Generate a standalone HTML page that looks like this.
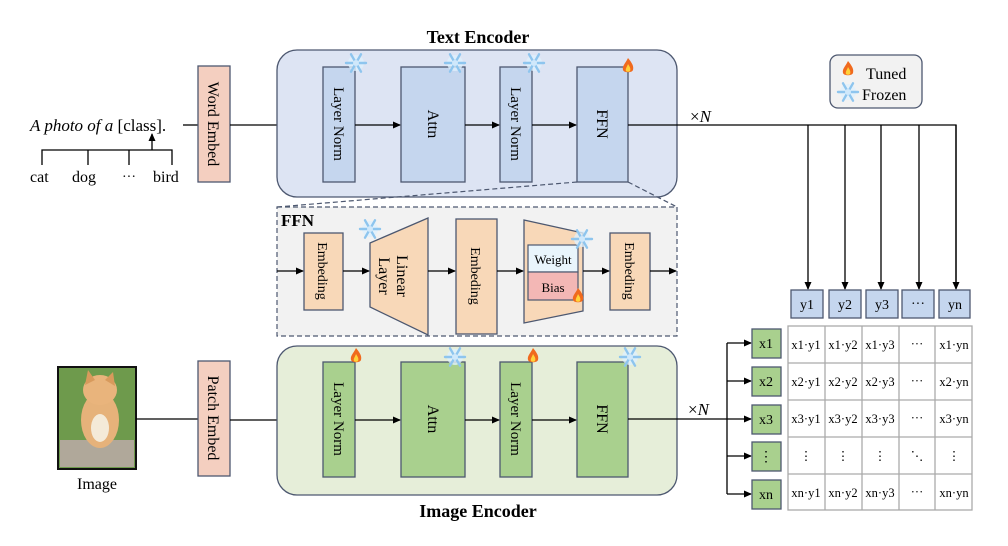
<!DOCTYPE html>
<html><head><meta charset="utf-8"><style>
html,body{margin:0;padding:0;background:#fff}
svg{display:block;font-family:"Liberation Serif",serif}
</style></head><body>
<svg width="1008" height="546" viewBox="0 0 1008 546" xmlns="http://www.w3.org/2000/svg">
<defs>
<marker id="a" markerWidth="8" markerHeight="8" refX="7" refY="4" orient="auto" markerUnits="userSpaceOnUse"><path d="M0,0.5 L8,4 L0,7.5 Z" fill="#000"/></marker>
<g id="sf"><circle r="8" fill="#dff0fc" opacity="0.8"/><g stroke="#8ec5ee" stroke-width="2.4" stroke-linecap="round"><line x1="-10" y1="0" x2="10" y2="0"/><line x1="-5" y1="-8.7" x2="5" y2="8.7"/><line x1="5" y1="-8.7" x2="-5" y2="8.7"/></g><circle r="3" fill="#cfe8fb"/></g>
<g id="fl"><path d="M0,-8 C4,-3 6,0 5,4 C4,7 -4,7 -5,4 C-6,0 -3,-2 0,-8 Z" fill="#f06a1e"/><path d="M0,-2 C2,1 3,3 2,5 C1,6 -1,6 -2,5 C-3,3 -1,1 0,-2 Z" fill="#ffd23a"/></g>
</defs>

<!-- left text -->
<text x="30" y="131" font-size="17"><tspan font-style="italic">A photo of a</tspan> [class].</text>
<line x1="183" y1="125" x2="198" y2="125" stroke="#000" stroke-width="1.3"/>
<path d="M42,165 V150 H172 V165 M88,150 V165 M129,150 V165" fill="none" stroke="#000" stroke-width="1.3"/>
<line x1="152" y1="150" x2="152" y2="134" stroke="#000" stroke-width="1.3" marker-end="url(#a)"/>
<text x="30" y="182" font-size="16">cat</text>
<text x="72" y="182" font-size="16">dog</text>
<text x="122" y="181" font-size="14">···</text>
<text x="153" y="182" font-size="16">bird</text>

<!-- Word embed -->
<rect x="198" y="66" width="32" height="116" fill="#f4cfc0" stroke="#4d5870" stroke-width="1.3"/>
<text transform="translate(208,124) rotate(90)" text-anchor="middle" font-size="16">Word Embed</text>
<line x1="230" y1="125" x2="322" y2="125" stroke="#000" stroke-width="1.3" marker-end="url(#a)"/>

<!-- Text encoder -->
<text x="478" y="43" text-anchor="middle" font-size="18" font-weight="bold">Text Encoder</text>
<rect x="277" y="50" width="400" height="147" rx="20" fill="#dde4f3" stroke="#4d5870" stroke-width="1.3"/>
<g fill="#c5d6ee" stroke="#4d5870" stroke-width="1.3">
<rect x="323" y="67" width="32" height="115"/>
<rect x="401" y="67" width="64" height="115"/>
<rect x="500" y="67" width="32" height="115"/>
<rect x="577" y="67" width="51" height="115"/>
</g>
<text transform="translate(334,124) rotate(90)" text-anchor="middle" font-size="15">Layer Norm</text>
<text transform="translate(428,124) rotate(90)" text-anchor="middle" font-size="16">Attn</text>
<text transform="translate(511,124) rotate(90)" text-anchor="middle" font-size="15">Layer Norm</text>
<text transform="translate(597,124) rotate(90)" text-anchor="middle" font-size="16">FFN</text>
<g stroke="#000" stroke-width="1.3" marker-end="url(#a)">
<line x1="355" y1="125" x2="400" y2="125"/>
<line x1="465" y1="125" x2="499" y2="125"/>
<line x1="532" y1="125" x2="576" y2="125"/>
</g>
<use href="#sf" x="356" y="63"/><use href="#sf" x="455" y="63"/><use href="#sf" x="534" y="63"/><use href="#fl" x="628" y="66"/>

<!-- text output -->
<text x="690" y="122" font-size="17">×<tspan font-style="italic">N</tspan></text>
<path d="M628,125 H956 V288" fill="none" stroke="#000" stroke-width="1.3"/>
<g stroke="#000" stroke-width="1.3" marker-end="url(#a)">
<line x1="808" y1="125" x2="808" y2="289"/>
<line x1="845" y1="125" x2="845" y2="289"/>
<line x1="881" y1="125" x2="881" y2="289"/>
<line x1="919" y1="125" x2="919" y2="289"/>
<line x1="956" y1="125" x2="956" y2="289"/>
</g>

<!-- legend -->
<rect x="830" y="55" width="92" height="53" rx="8" fill="#f2f2f2" stroke="#4d5870" stroke-width="1.3"/>
<use href="#fl" x="848" y="69"/><use href="#sf" x="848" y="92"/>
<text x="866" y="79" font-size="16">Tuned</text>
<text x="862" y="100" font-size="16">Frozen</text>

<!-- dashed connectors -->
<g stroke="#4d5870" stroke-width="1.2" stroke-dasharray="5,3" fill="none">
<line x1="577" y1="182" x2="277" y2="207"/>
<line x1="628" y1="182" x2="677" y2="207"/>
<rect x="277" y="207" width="400" height="129" fill="#f2f2f2"/>
</g>
<text x="281" y="226" font-size="17" font-weight="bold">FFN</text>
<g fill="#f8d8b8" stroke="#4d5870" stroke-width="1.3">
<rect x="304" y="233" width="39" height="77"/>
<path d="M370,243 L428,218 L428,335 L370,307 Z"/>
<rect x="456" y="219" width="41" height="115"/>
<path d="M524,220 L583,233 L583,311 L524,323 Z"/>
<rect x="610" y="233" width="40" height="77"/>
</g>
<rect x="528" y="245" width="50" height="27" fill="#e9f5fc" stroke="#4d5870" stroke-width="1.2"/>
<rect x="528" y="272" width="50" height="28" fill="#f3b7b5" stroke="#4d5870" stroke-width="1.2"/>
<text x="553" y="264" text-anchor="middle" font-size="13">Weight</text>
<text x="553" y="292" text-anchor="middle" font-size="13">Bias</text>
<text transform="translate(318,271) rotate(90)" text-anchor="middle" font-size="14">Embeding</text>
<text transform="translate(397,276) rotate(90)" text-anchor="middle" font-size="16">Linear</text>
<text transform="translate(379,276) rotate(90)" text-anchor="middle" font-size="16">Layer</text>
<text transform="translate(471,276) rotate(90)" text-anchor="middle" font-size="14">Embeding</text>
<text transform="translate(625,271) rotate(90)" text-anchor="middle" font-size="14">Embeding</text>
<g stroke="#000" stroke-width="1.3" marker-end="url(#a)">
<line x1="277" y1="271" x2="303" y2="271"/>
<line x1="343" y1="271" x2="369" y2="271"/>
<line x1="428" y1="271" x2="455" y2="271"/>
<line x1="497" y1="271" x2="523" y2="271"/>
<line x1="583" y1="271" x2="609" y2="271"/>
<line x1="650" y1="271" x2="676" y2="271"/>
</g>
<use href="#sf" x="370" y="229"/><use href="#sf" x="582" y="239"/><use href="#fl" x="578" y="296"/>

<!-- Image -->
<rect x="58" y="367" width="78" height="102" fill="#6e9a4c" stroke="#111" stroke-width="2"/>
<rect x="60" y="440" width="74" height="27" fill="#b0a89a"/>
<ellipse cx="100" cy="420" rx="19" ry="28" fill="#e6b27a"/>
<ellipse cx="100" cy="390" rx="17" ry="15" fill="#e9b47c"/>
<path d="M85,385 L88,370 L95,380 Z M105,380 L113,372 L115,386 Z" fill="#d89a5c"/>
<ellipse cx="100" cy="428" rx="9" ry="14" fill="#f4ead8"/>
<text x="97" y="489" text-anchor="middle" font-size="16">Image</text>
<line x1="136" y1="419" x2="198" y2="419" stroke="#000" stroke-width="1.3"/>

<!-- Patch embed -->
<rect x="198" y="361" width="32" height="115" fill="#f4cfc0" stroke="#4d5870" stroke-width="1.3"/>
<text transform="translate(208,418) rotate(90)" text-anchor="middle" font-size="16">Patch Embed</text>
<line x1="230" y1="420" x2="322" y2="420" stroke="#000" stroke-width="1.3" marker-end="url(#a)"/>

<!-- Image encoder -->
<rect x="277" y="346" width="400" height="149" rx="20" fill="#e6eed9" stroke="#4d5870" stroke-width="1.3"/>
<g fill="#a9d08e" stroke="#4d5870" stroke-width="1.3">
<rect x="323" y="362" width="32" height="115"/>
<rect x="401" y="362" width="64" height="115"/>
<rect x="500" y="362" width="32" height="115"/>
<rect x="577" y="362" width="51" height="115"/>
</g>
<text transform="translate(334,419) rotate(90)" text-anchor="middle" font-size="15">Layer Norm</text>
<text transform="translate(428,419) rotate(90)" text-anchor="middle" font-size="16">Attn</text>
<text transform="translate(511,419) rotate(90)" text-anchor="middle" font-size="15">Layer Norm</text>
<text transform="translate(597,419) rotate(90)" text-anchor="middle" font-size="16">FFN</text>
<g stroke="#000" stroke-width="1.3" marker-end="url(#a)">
<line x1="355" y1="420" x2="400" y2="420"/>
<line x1="465" y1="420" x2="499" y2="420"/>
<line x1="532" y1="420" x2="576" y2="420"/>
</g>
<use href="#fl" x="356" y="356"/><use href="#sf" x="455" y="357"/><use href="#fl" x="533" y="356"/><use href="#sf" x="630" y="357"/>
<text x="478" y="517" text-anchor="middle" font-size="18" font-weight="bold">Image Encoder</text>

<!-- image output -->
<text x="688" y="415" font-size="17">×<tspan font-style="italic">N</tspan></text>
<line x1="628" y1="419" x2="727" y2="419" stroke="#000" stroke-width="1.3"/>
<line x1="727" y1="343" x2="727" y2="494" stroke="#000" stroke-width="1.3"/>
<g stroke="#000" stroke-width="1.3" marker-end="url(#a)">
<line x1="727" y1="343" x2="751" y2="343"/>
<line x1="727" y1="381" x2="751" y2="381"/>
<line x1="727" y1="419" x2="751" y2="419"/>
<line x1="727" y1="456" x2="751" y2="456"/>
<line x1="727" y1="494" x2="751" y2="494"/>
</g>

<!-- y headers -->
<g fill="#c5d6ee" stroke="#4d5870" stroke-width="1.3">
<rect x="791" y="290" width="32" height="28"/><rect x="829" y="290" width="32" height="28"/><rect x="866" y="290" width="32" height="28"/><rect x="902" y="290" width="32" height="28"/><rect x="939" y="290" width="31" height="28"/>
</g>
<g font-size="14" text-anchor="middle">
<text x="807" y="309">y1</text><text x="845" y="309">y2</text><text x="882" y="309">y3</text><text x="918" y="308">···</text><text x="955" y="309">yn</text>
</g>
<!-- x boxes -->
<g fill="#a9d08e" stroke="#4d5870" stroke-width="1.3">
<rect x="752" y="329" width="29" height="29"/><rect x="752" y="367" width="29" height="29"/><rect x="752" y="405" width="29" height="29"/><rect x="752" y="442" width="29" height="29"/><rect x="752" y="480" width="29" height="29"/>
</g>
<g font-size="14" text-anchor="middle">
<text x="766" y="348">x1</text><text x="766" y="386">x2</text><text x="766" y="424">x3</text><text x="766" y="461">⋮</text><text x="766" y="499">xn</text>
</g>
<!-- grid -->
<g fill="#fff" stroke="#aaa" stroke-width="1.3">
<rect x="788" y="326" width="184" height="184"/>
</g>
<g stroke="#aaa" stroke-width="1.3">
<line x1="825" y1="326" x2="825" y2="510"/><line x1="862" y1="326" x2="862" y2="510"/><line x1="899" y1="326" x2="899" y2="510"/><line x1="935" y1="326" x2="935" y2="510"/>
<line x1="788" y1="363" x2="972" y2="363"/><line x1="788" y1="400" x2="972" y2="400"/><line x1="788" y1="437" x2="972" y2="437"/><line x1="788" y1="474" x2="972" y2="474"/>
</g>
<g font-size="12.5" text-anchor="middle">
<text x="806" y="349">x1·y1</text><text x="843" y="349">x1·y2</text><text x="880" y="349">x1·y3</text><text x="917" y="348">···</text><text x="954" y="349">x1·yn</text>
<text x="806" y="386">x2·y1</text><text x="843" y="386">x2·y2</text><text x="880" y="386">x2·y3</text><text x="917" y="385">···</text><text x="954" y="386">x2·yn</text>
<text x="806" y="423">x3·y1</text><text x="843" y="423">x3·y2</text><text x="880" y="423">x3·y3</text><text x="917" y="422">···</text><text x="954" y="423">x3·yn</text>
<text x="806" y="460">⋮</text><text x="843" y="460">⋮</text><text x="880" y="460">⋮</text><text x="917" y="460">⋱</text><text x="954" y="460">⋮</text>
<text x="806" y="497">xn·y1</text><text x="843" y="497">xn·y2</text><text x="880" y="497">xn·y3</text><text x="917" y="496">···</text><text x="954" y="497">xn·yn</text>
</g>
</svg>
</body></html>
